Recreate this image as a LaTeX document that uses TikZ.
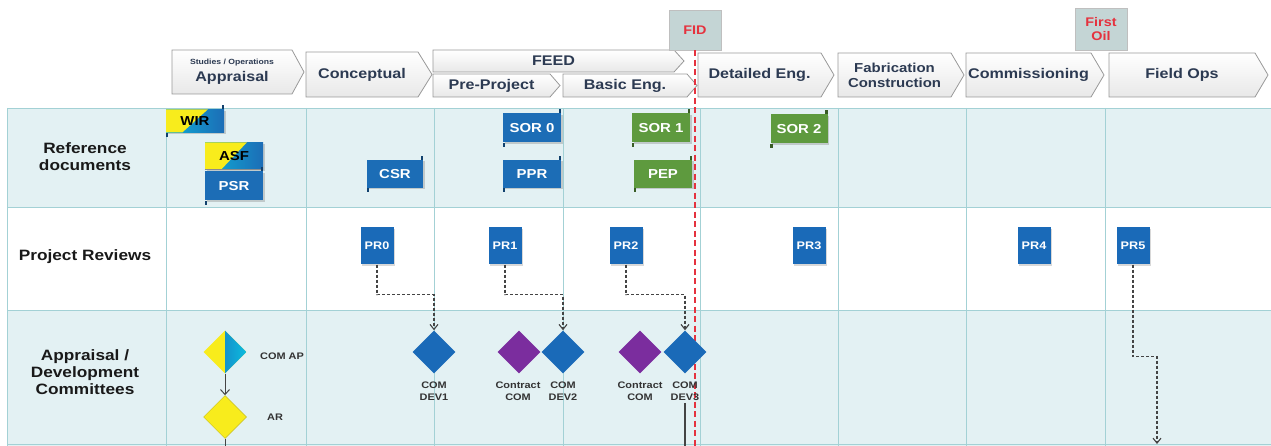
\documentclass[tikz,border=0pt]{standalone}
\usepackage{fontspec}
\setmainfont{Liberation Sans}[FakeStretch=1.15]
\usetikzlibrary{shapes.geometric,arrows.meta,shadows,calc}
\definecolor{rowbg}{HTML}{E3F1F3}
\definecolor{gridc}{HTML}{A3D1D5}
\definecolor{docblue}{HTML}{1C6DB6}
\definecolor{docgreen}{HTML}{5E9A3E}
\definecolor{comblue}{HTML}{1A6AB8}
\definecolor{compurple}{HTML}{7B2D9E}
\definecolor{yel}{HTML}{F8EC1C}
\definecolor{hdrtext}{HTML}{2C3A52}
\definecolor{fidred}{HTML}{E5323E}
\definecolor{fidfill}{HTML}{C4D5D5}
\definecolor{connc}{HTML}{444444}
\newcommand{\chev}[7]{%
  \path[chev] (#2,#3) -- ({#4-#6},#3) -- (#4,{(#3+#5)/2}) -- ({#4-#6},#5) -- (#2,#5) -- cycle;
  \node[hdr] (#1) at ({(#2+#4-#6)/2},{(#3+#5)/2}) {#7};}
\newcommand{\curl}[2]{%
  \fill[#2] ([xshift=-2.5pt]#1.north east) rectangle ++(2.5,-4);
  \fill[#2] (#1.south west) rectangle ++(2.5,4);}
\begin{document}
\begin{tikzpicture}[x=1pt,y=-1pt,
  chev/.style={top color=white, bottom color=black!9, draw=black!40, line width=0.8pt},
  hdr/.style={text=hdrtext, font=\bfseries\fontsize{14}{15}\selectfont, align=center, inner sep=0pt},
  rowlab/.style={font=\bfseries\fontsize{15}{17}\selectfont, align=center, text=black!90},
  milestone/.style={fill=fidfill, draw=black!25, text=fidred, font=\bfseries\fontsize{12.5}{14}\selectfont, align=center, minimum width=52pt, inner sep=0pt, drop shadow={opacity=0.25, shadow xshift=1pt, shadow yshift=-1pt}},
  fidline/.style={fidred, line width=2.2pt, dash pattern=on 6pt off 3.5pt},
  flag/.style={fill=#1, text=white, font=\bfseries\fontsize{13}{14}\selectfont, minimum width=58pt, minimum height=29pt, inner sep=0pt, drop shadow={opacity=0.35, shadow xshift=1.5pt, shadow yshift=-1.5pt}},
  twotone/.style={text=black, path picture={
     \shade[left color=docblue!55!cyan, right color=docblue] (path picture bounding box.south west) rectangle (path picture bounding box.north east);
     \fill[yel] (path picture bounding box.north west) -- ($(path picture bounding box.north west)!0.72!(path picture bounding box.north east)$) -- ($(path picture bounding box.south west)!0.28!(path picture bounding box.south east)$) -- (path picture bounding box.south west) -- cycle;}},
  prbox/.style={fill=comblue, text=white, font=\bfseries\fontsize{11}{12}\selectfont, minimum width=33pt, minimum height=37pt, inner sep=0pt, drop shadow={opacity=0.3, shadow xshift=1.5pt, shadow yshift=-1.5pt}},
  dia/.style={diamond, aspect=1, minimum width=43pt, minimum height=43pt, inner sep=0pt, fill=#1},
  dlab/.style={font=\bfseries\fontsize{9.5}{12.5}\selectfont, text=black!80, align=center, inner sep=0pt},
  dlabbig/.style={font=\bfseries\fontsize{9.5}{11}\selectfont, text=black!80, inner sep=0pt},
  conn/.style={connc, line width=1.1pt, dash pattern=on 3pt off 2pt, -{Straight Barb[length=5pt,width=8pt]}},
  arr/.style={connc, line width=1pt, -{Straight Barb[length=5pt,width=9pt]}},
  solid line/.style={connc, line width=1pt}]
\useasboundingbox (0,0) rectangle (1271,446);
% ---- row backgrounds ----
\fill[rowbg] (7,108) rectangle (1271,207);
\fill[white] (7,207) rectangle (1271,310);
\fill[rowbg] (7,310) rectangle (1271,446);
% ---- grid ----
\foreach \yy in {108,207,310,444} \draw[gridc, line width=0.9pt] (7,\yy) -- (1271,\yy);
\foreach \xx in {7,166,306,434,563,700,838,966,1105} \draw[gridc, line width=0.9pt] (\xx,108) -- (\xx,446);
% ---- row labels ----
\node[rowlab] (lref) at (85,157) {Reference\\documents};
\node[rowlab] (lpr) at (85,257) {Project Reviews};
\node[rowlab] (lcom) at (85,372) {Appraisal /\\Development\\Committees};
% ---- header chevrons ----
\chev{appraisal}{172}{50}{304}{94}{12}{{\fontsize{7.5}{8}\selectfont Studies / Operations}\\[2pt]Appraisal}
\chev{concept}{306}{52}{432}{97}{14}{Conceptual}
\chev{feed}{433}{50}{684}{72}{10}{FEED}
\chev{preproj}{433}{74}{560}{97}{10}{Pre-Project}
\chev{basic}{563}{74}{697}{97}{10}{Basic Eng.}
\chev{detailed}{698}{53}{834}{97}{13}{Detailed Eng.}
\chev{fab}{838}{53}{964}{97}{13}{{\fontsize{13}{14}\selectfont Fabrication}\\{\fontsize{13}{14}\selectfont Construction}}
\chev{commis}{966}{53}{1104}{97}{13}{Commissioning}
\chev{fieldops}{1109}{53}{1268}{97}{13}{Field Ops}
% ---- milestones ----
\node[milestone, minimum height=40pt] (fid) at (695,30) {FID};
\node[milestone, minimum height=42pt] (firstoil) at (1101,29) {First\\Oil};
\coordinate (bottomref) at (696,446);
\draw[fidline] (fid.south) -- (fid.south |- bottomref);
% ---- reference documents ----
\node[flag=docblue, twotone, minimum height=23pt] (wir) at (195,121) {WIR};
\node[flag=docblue, twotone, minimum height=27pt] (asf) at (234,156) {ASF};
\node[flag=docblue, minimum height=29pt] (psr) at (234,186) {PSR};
\draw[black!45, line width=1.2pt] (asf.south west) -- (asf.south east);
\node[flag=docblue, minimum height=28pt, minimum width=56pt] (csr) at (395,174) {CSR};
\node[flag=docblue] (sor0) at (532,128) {SOR 0};
\node[flag=docblue, minimum height=28pt] (ppr) at (532,174) {PPR};
\node[flag=docgreen] (sor1) at (661,128) {SOR 1};
\node[flag=docgreen, minimum height=28pt] (pep) at (663,174) {PEP};
\node[flag=docgreen, minimum width=57pt] (sor2) at (799,129) {SOR 2};
\curl{wir}{docblue!60!black}
\curl{psr}{docblue!60!black}
\curl{csr}{docblue!60!black}
\curl{sor0}{docblue!60!black}
\curl{ppr}{docblue!60!black}
\curl{sor1}{docgreen!60!black}
\curl{pep}{docgreen!60!black}
\curl{sor2}{docgreen!60!black}
% ---- project reviews ----
\node[prbox] (pr0) at (377,246) {PR0};
\node[prbox] (pr1) at (505,246) {PR1};
\node[prbox] (pr2) at (626,246) {PR2};
\node[prbox] (pr3) at (809,246) {PR3};
\node[prbox] (pr4) at (1034,246) {PR4};
\node[prbox] (pr5) at (1133,246) {PR5};
% ---- committees ----
\node[dia=yel, path picture={
   \shade[left color=comblue, right color=cyan!55!comblue] (path picture bounding box.south) rectangle (path picture bounding box.north east);}] (comap) at (225,352) {};
\node[dia=yel, draw=yel!80!black, line width=0.5pt] (ar) at (225,417) {};
\node[dia=comblue] (dev1) at (434,352) {};
\node[dia=compurple] (con1) at (519,352) {};
\node[dia=comblue] (dev2) at (563,352) {};
\node[dia=compurple] (con2) at (640,352) {};
\node[dia=comblue] (dev3) at (685,352) {};
\node[dlabbig] (lcomap) at (282,356) {COM AP};
\node[dlabbig] (lar) at (275,417) {AR};
\node[dlab] (ldev1) at (434,391) {COM\\DEV1};
\node[dlab] (lcon1) at (518,391) {Contract\\COM};
\node[dlab] (ldev2) at (563,391) {COM\\DEV2};
\node[dlab] (lcon2) at (640,391) {Contract\\COM};
\node[dlab] (ldev3) at (685,391) {COM\\DEV3};
% ---- connectors ----
\draw[arr] (comap.south) -- (ar.north);
\draw[solid line] (ar.south) -- (ar.south |- bottomref);
\draw[solid line, line width=1.3pt] ([yshift=-2pt]ldev3.south) -- (ldev3.south |- bottomref);
\draw[conn] (pr0.south) -- ++(0,30) -| (dev1.north);
\draw[conn] (pr1.south) -- ++(0,30) -| (dev2.north);
\draw[conn] (pr2.south) -- ++(0,30) -| (dev3.north);
\coordinate (pr5end) at (1157,444);
\draw[conn] (pr5.south) -- ++(0,92) -| (pr5end);
\end{tikzpicture}
\end{document}
